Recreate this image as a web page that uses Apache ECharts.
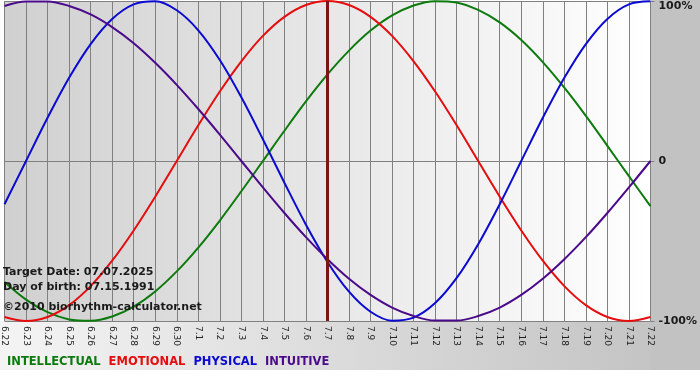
<!DOCTYPE html>
<html>
<head>
<meta charset="utf-8">
<script src="https://cdn.jsdelivr.net/npm/echarts@6/dist/echarts.min.js"></script>
<style>
html,body{margin:0;padding:0;background:#fff;}
#chart{width:700px;height:380px;}
</style>
</head>
<body>
<div id="chart"></div>
<script>
var days = ['6.22','6.23','6.24','6.25','6.26','6.27','6.28','6.29','6.30','7.1','7.2','7.3','7.4','7.5','7.6','7.7','7.8','7.9','7.10','7.11','7.12','7.13','7.14','7.15','7.16','7.17','7.18','7.19','7.20','7.21','7.22'];
var intellectual = [-75.6,-86.6,-94.5,-99.0,-99.9,-97.2,-91.0,-81.5,-69.0,-54.1,-37.2,-18.9,0,18.9,37.2,54.1,69.0,81.5,91.0,97.2,99.9,99.0,94.5,86.6,75.6,61.8,45.8,28.2,9.5,-9.5,-28.2];
var emotional = [-97.5,-100,-97.5,-90.1,-78.2,-62.3,-43.4,-22.3,0,22.3,43.4,62.3,78.2,90.1,97.5,100,97.5,90.1,78.2,62.3,43.4,22.3,0,-22.3,-43.4,-62.3,-78.2,-90.1,-97.5,-100,-97.5];
var physical = [-27.0,0,27.0,52.0,73.1,88.8,97.9,99.8,94.2,81.7,63.1,39.8,13.6,-13.6,-39.8,-63.1,-81.7,-94.2,-99.8,-97.9,-88.8,-73.1,-52.0,-27.0,0,27.0,52.0,73.1,88.8,97.9,99.8];
var intuitive = [96.9,99.7,99.7,96.9,91.6,83.7,73.6,61.4,47.6,32.5,16.5,0,-16.5,-32.5,-47.6,-61.4,-73.6,-83.7,-91.6,-96.9,-99.7,-99.7,-96.9,-91.6,-83.7,-73.6,-61.4,-47.6,-32.5,-16.5,0];
var yTicks = [-100, 0, 100];
var yTickLabels = ['-100%', '0', '100%'];
var targetDay = '7.7';
var infoLines = ['Target Date: 07.07.2025', 'Day of birth: 07.15.1991', '\u00a92010 biorhythm-calculator.net'];

var FONT = '"DejaVu Sans", Verdana, sans-serif';
var colors = {INTELLECTUAL:'#0d7a0d', EMOTIONAL:'#e50d0d', PHYSICAL:'#0a0ad0', INTUITIVE:'#4a0a8a'};

function mk(name, data){
  return {
    name: name, type: 'line', data: data, smooth: 0.34, symbol: 'none', clip: false,
    lineStyle: {color: colors[name], width: 2}, itemStyle: {color: colors[name]}
  };
}

var chart = echarts.init(document.getElementById('chart'), null, {renderer:'canvas'});
var series = [
  mk('INTELLECTUAL', intellectual),
  mk('EMOTIONAL', emotional),
  mk('PHYSICAL', physical),
  mk('INTUITIVE', intuitive)
];
series[0].markLine = {
  silent: true, symbol: 'none', label: {show: false},
  lineStyle: {color: '#7a1616', width: 3, type: 'solid'},
  data: [{xAxis: targetDay}]
};

chart.setOption({
  animation: false,
  backgroundColor: '#ffffff',
  textStyle: {fontFamily: FONT},
  grid: {
    left: 0, right: 49, top: 1, bottom: 59, show: true, borderWidth: 0,
    backgroundColor: new echarts.graphic.LinearGradient(0, 0, 1, 0, [
      {offset: 0, color: '#d0d0d0'}, {offset: 1, color: '#ffffff'}
    ])
  },
  graphic: [
    {type: 'rect', z: -10, shape: {x: 651, y: 0, width: 49, height: 370}, style: {fill: '#c2c2c2'}},
    {type: 'rect', z: -10, shape: {x: 0, y: 321, width: 651, height: 49},
      style: {fill: new echarts.graphic.LinearGradient(0, 0, 1, 0, [
        {offset: 0, color: '#f4f4f4'}, {offset: 1, color: '#c4c4c4'}
      ])}},
    {type: 'text', z: 50, style: {text: infoLines[0], x: 3, y: 272, verticalAlign: 'middle', font: 'bold 11px ' + FONT, fill: '#1a1a1a'}},
    {type: 'text', z: 50, style: {text: infoLines[1], x: 3, y: 287, verticalAlign: 'middle', font: 'bold 11px ' + FONT, fill: '#1a1a1a'}},
    {type: 'text', z: 50, style: {text: infoLines[2], x: 3, y: 307, verticalAlign: 'middle', font: 'bold 11px ' + FONT, fill: '#1a1a1a'}}
  ],
  legend: {
    left: -3, top: 351, icon: 'none', itemWidth: 0, itemHeight: 12, itemGap: 3,
    selectedMode: false,
    textStyle: {fontFamily: FONT, fontSize: 11.5, fontWeight: 'bold'},
    data: [
      {name: 'INTELLECTUAL', textStyle: {color: colors.INTELLECTUAL}},
      {name: 'EMOTIONAL', textStyle: {color: colors.EMOTIONAL}},
      {name: 'PHYSICAL', textStyle: {color: colors.PHYSICAL}},
      {name: 'INTUITIVE', textStyle: {color: colors.INTUITIVE}}
    ]
  },
  xAxis: {
    type: 'category', data: days, boundaryGap: false,
    axisLine: {show: true, lineStyle: {color: '#808080', width: 1}},
    axisTick: {show: true, length: 4, interval: 0, lineStyle: {color: '#808080'}},
    splitLine: {show: true, interval: 0, lineStyle: {color: '#808080', width: 1}},
    axisLabel: {interval: 0, rotate: -90, margin: 5, fontSize: 9, color: '#222', fontFamily: FONT}
  },
  yAxis: {
    type: 'value', position: 'right', min: -100, max: 100, interval: 100,
    axisLine: {show: false},
    axisTick: {show: true, length: 4, lineStyle: {color: '#808080'}},
    splitLine: {show: true, lineStyle: {color: '#808080', width: 1}},
    axisLabel: {
      margin: 8, fontSize: 11, fontWeight: 'bold', color: '#1a1a1a', fontFamily: FONT,
      verticalAlignMaxLabel: 'top',
      formatter: function(v){ var i = yTicks.indexOf(v); return i >= 0 ? yTickLabels[i] : ''; }
    }
  },
  series: series
});
</script>
</body>
</html>
